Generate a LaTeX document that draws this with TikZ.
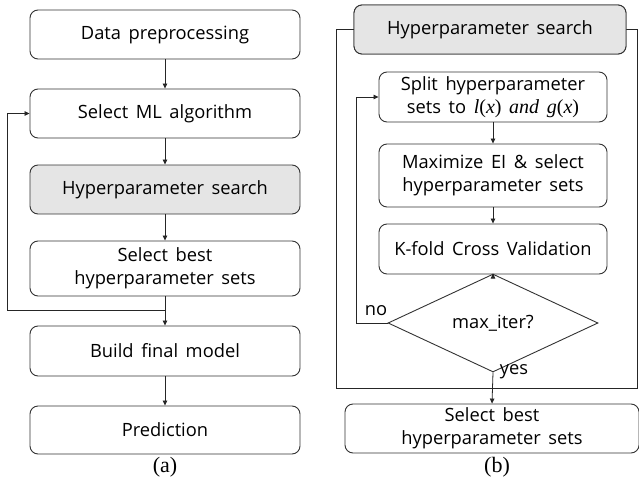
\documentclass[tikz,border=0pt]{standalone}
\usepackage{fontspec}
\setmainfont{Open Sans}[WordSpace=1.6]
\newfontfamily\capfont{Liberation Serif}
\newfontfamily\mathlike{Liberation Serif}
\usetikzlibrary{shapes.geometric,arrows.meta}
\newcommand{\mvar}[1]{{\mathlike\itshape\fontsize{20}{23}\selectfont #1}}
\newcommand{\mpar}[1]{{\mathlike\fontsize{20}{23}\selectfont #1}}
\tikzset{
  x=1pt, y=-1pt,
  txt/.style={font=\fontsize{18.3}{23}\selectfont},
  box/.style={draw=black!80, line width=0.9pt, rounded corners=8pt, fill=white,
    align=center, inner sep=0pt, txt},
  graybox/.style={box, fill=black!10},
  decision/.style={draw=black!80, line width=0.9pt, diamond, fill=white, inner sep=0pt,
    minimum width=210pt, minimum height=64pt, txt},
  arrow/.style={draw=black!85, line width=0.8pt, -{Triangle[length=5pt,width=4.5pt]}},
  line/.style={draw=black!85, line width=0.8pt},
  lbl/.style={inner sep=0pt, txt},
  captext/.style={inner sep=0pt, font=\capfont\fontsize{22}{24}\selectfont}
}
\begin{document}
\begin{tikzpicture}
\useasboundingbox (0,0) rectangle (639,492);

% ---------- (a) overall workflow ----------
\node[box, minimum width=270pt, minimum height=49pt] (dp) at (165,34.5) {Data preprocessing};
\node[box, minimum width=270pt, minimum height=49pt] (ml) at (165,113.5) {Select ML algorithm};
\node[graybox, minimum width=270pt, minimum height=49pt] (hs) at (165,189.5) {Hyperparameter search};
\node[box, minimum width=270pt, minimum height=55pt] (bs) at (165,268.5) {Select best\\hyperparameter sets};
\node[box, minimum width=270pt, minimum height=50pt] (fm) at (165,351) {Build final model};
\node[box, minimum width=270pt, minimum height=48pt] (pr) at (165,430) {Prediction};

\draw[arrow] (dp) -- (ml);
\draw[arrow] (ml) -- (hs);
\draw[arrow] (hs) -- (bs);
\draw[arrow] (bs) -- (fm);
\draw[arrow] (fm) -- (pr);

% loop back to the algorithm choice
\coordinate (ja) at (165,310);
\coordinate (la) at (7,310);
\draw[arrow] (ja) -- (la) |- (ml.west);

\node[captext] (capa) at (165,467) {(a)};

% ---------- (b) hyperparameter search ----------
\coordinate (ob) at (336,388);
\coordinate (oc) at (637,388);
\node[graybox, minimum width=272pt, minimum height=49pt] (hsr) at (490,29.5) {};
\draw[line] (hsr.west) -- (ob |- hsr.west) -- (ob) -- (oc) -- (oc |- hsr.east) -- (hsr.east);
\node[graybox, minimum width=272pt, minimum height=49pt] at (490,29.5) {Hyperparameter search};

\node[box, minimum width=228pt, minimum height=50pt] (sp) at (493,97)
  {Split hyperparameter\\sets to \mvar{l}\mpar{(}\mvar{x}\mpar{)} \mvar{and} \mvar{g}\mpar{(}\mvar{x}\mpar{)}};
\node[box, minimum width=228pt, minimum height=63pt] (ei) at (493,175.5)
  {Maximize EI \& select\\hyperparameter sets};
\node[box, minimum width=228pt, minimum height=50pt] (kf) at (493,249) {K-fold Cross Validation};
\node[decision] (mi) at (493,323) {max\_iter?};

\node[box, minimum width=294pt, minimum height=49pt] (fb) at (492,428.5)
  {Select best\\hyperparameter sets};

\draw[arrow] (sp) -- (ei);
\draw[arrow] (ei) -- (kf);
\draw[arrow] (kf) -- (mi);
\draw[arrow] (mi.south) -- (fb.north);

\coordinate (lb) at (356,323);
\draw[arrow] (mi.west) -- (lb) |- (sp.west);

\node[lbl] (no) at (376,311) {no};
\node[lbl] (yes) at (514,372) {yes};

\node[captext] (capb) at (497,467) {(b)};
\end{tikzpicture}
\end{document}
